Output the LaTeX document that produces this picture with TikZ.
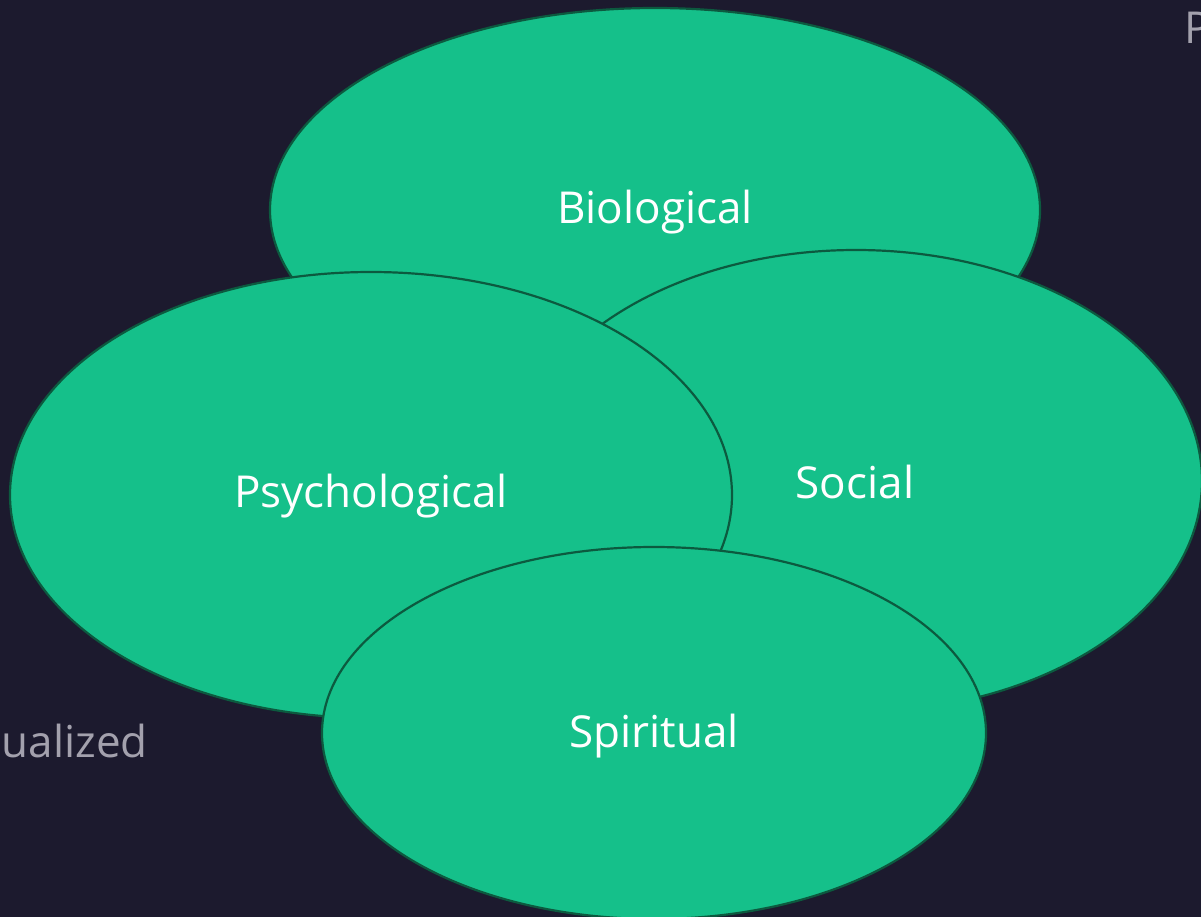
\documentclass[tikz,border=0pt]{standalone}
\usepackage{fontspec}
\setmainfont{Open Sans}
\begin{document}
\begin{tikzpicture}[x=1pt,y=-1pt,
  petal/.style={fill=petalgreen,draw=petaledge,line width=2.2pt},
  label/.style={text=white,font=\fontsize{44}{52}\selectfont,inner sep=0pt},
  faint/.style={text=faintgray,font=\fontsize{44}{52}\selectfont,inner sep=0pt}]
\definecolor{bg}{HTML}{1C1A2E}
\definecolor{petalgreen}{HTML}{15C08A}
\definecolor{petaledge}{HTML}{0C5A3F}
\definecolor{faintgray}{HTML}{A3A1AD}
\useasboundingbox (0,0) rectangle (1201,917);
\clip (0,0) rectangle (1201,917);
\fill[bg] (0,0) rectangle (1201,917);
% side captions partly outside the frame
\node[faint,anchor=base east] (cap) at (148,757) {ualized};
\node[faint,anchor=base west] (capr) at (1184,44) {P};
% the four overlapping domains, back to front
\draw[petal] (655,210) ellipse [x radius=385, y radius=202];
\node[label] (bio) at (655,212) {Biological};
\draw[petal] (856,481) ellipse [x radius=346, y radius=231];
\node[label] (soc) at (855,482) {Social};
\draw[petal] (371,495) ellipse [x radius=361, y radius=223];
\node[label] (psy) at (371,496) {Psychological};
\draw[petal] (654,733) ellipse [x radius=332, y radius=186];
\node[label] (spi) at (654,736) {Spiritual};
\end{tikzpicture}
\end{document}
